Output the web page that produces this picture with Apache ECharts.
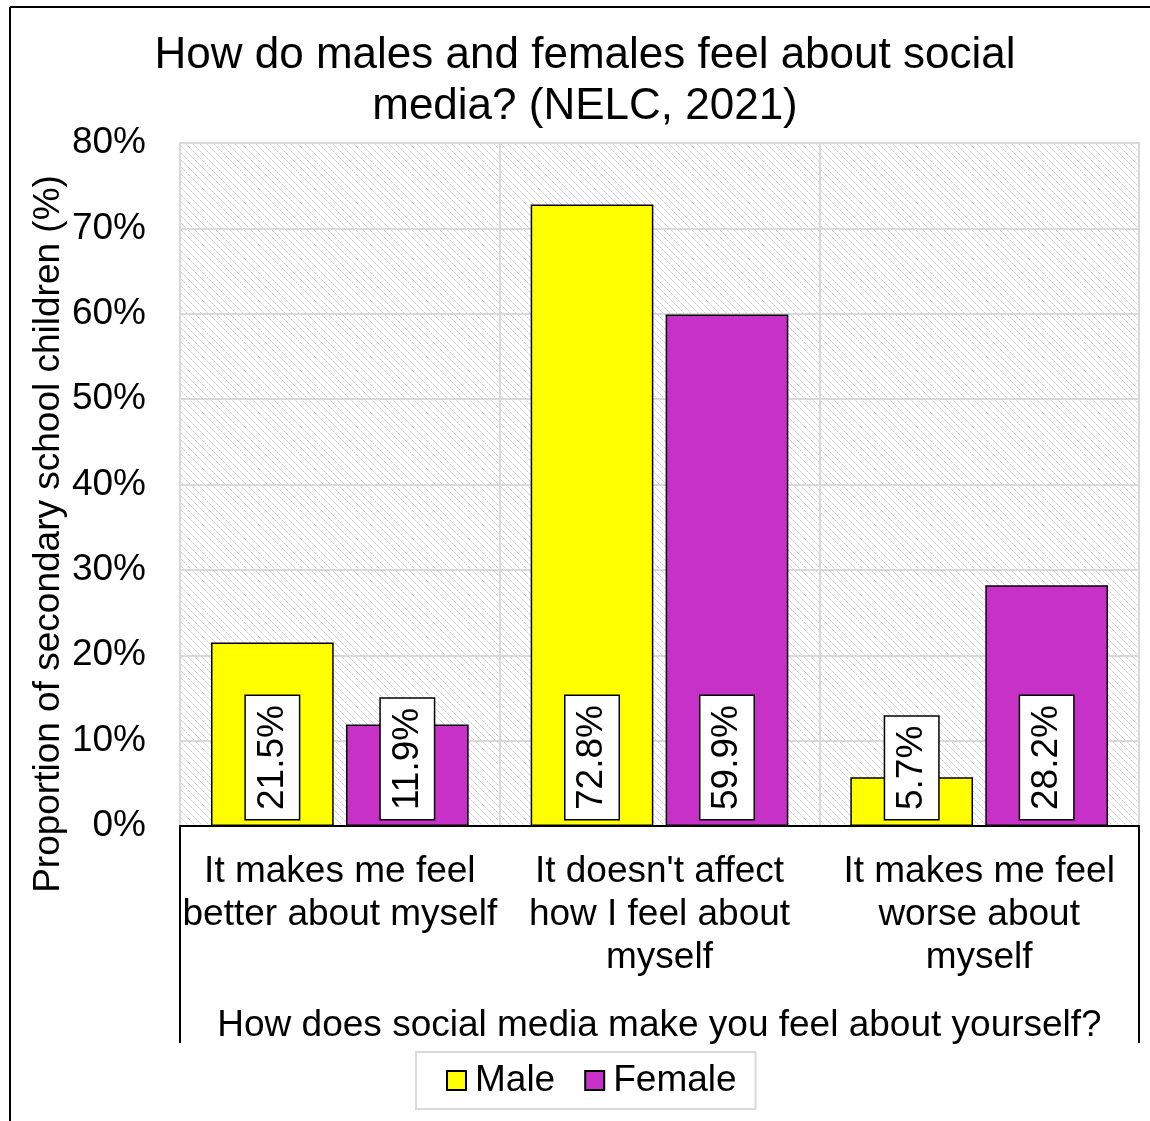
<!DOCTYPE html>
<html>
<head>
<meta charset="utf-8">
<script src="https://cdn.jsdelivr.net/npm/echarts@6/dist/echarts.min.js"></script>
<style>
  html, body { margin: 0; padding: 0; background: #fff; }
  #chart { width: 1150px; height: 1121px; }
</style>
</head>
<body>
<div id="chart"></div>
<script>
// Survey responses (% of secondary school children)
const categories = [
  'It makes me feel\nbetter about myself',
  "It doesn't affect\nhow I feel about\nmyself",
  'It makes me feel\nworse about\nmyself'
];
const maleValues = [21.5, 72.8, 5.7];
const femaleValues = [11.9, 59.9, 28.2];
const seriesNames = ['Male', 'Female'];
const yTicks = { min: 0, max: 80, interval: 10 };

const FONT = 'Liberation Sans, Arial, sans-serif';
const GRID = { left: 180, right: 11, top: 143, bottom: 295 };

// light grey diagonal hatch used behind the plot
function hatchPattern() {
  const c = document.createElement('canvas');
  const n = 7;
  c.width = n; c.height = n;
  const ctx = c.getContext('2d');
  ctx.fillStyle = '#ffffff';
  ctx.fillRect(0, 0, n, n);
  for (let i = 0; i < n; i++) {
    ctx.fillStyle = (i % 2 === 0) ? '#cfcfcf' : '#e4e4e4';
    ctx.fillRect(i, i, 1, 1);
  }
  return { image: c, repeat: 'repeat' };
}

const chart = echarts.init(document.getElementById('chart'), null, { renderer: 'canvas' });

const valueLabel = {
  show: true,
  position: 'insideBottom',
  distance: 7,
  rotate: 90,
  align: 'left',
  verticalAlign: 'middle',
  formatter: p => p.value.toFixed(1) + '%',
  fontFamily: FONT,
  fontSize: 37,
  lineHeight: 37,
  color: '#000',
  backgroundColor: '#fff',
  borderColor: '#000',
  borderWidth: 1.5,
  padding: [8, 9, 8, 9]
};

const plotW = 1150 - GRID.left - GRID.right;
const plotBottom = 1121 - GRID.bottom;

chart.setOption({
  animation: false,
  backgroundColor: '#fff',
  textStyle: { fontFamily: FONT },
  grid: {
    left: GRID.left, right: GRID.right, top: GRID.top, bottom: GRID.bottom,
    show: true,
    backgroundColor: hatchPattern(),
    borderColor: '#d9d9d9',
    borderWidth: 2
  },
  legend: {
    data: seriesNames,
    left: 416,
    top: 1052,
    orient: 'horizontal',
    padding: [10, 19, 10, 30],
    itemGap: 29,
    itemWidth: 19,
    itemHeight: 19,
    icon: 'rect',
    borderColor: '#d9d9d9',
    borderWidth: 2,
    backgroundColor: '#fff',
    textStyle: { fontFamily: FONT, fontSize: 37, color: '#000', padding: [0, 0, 0, 4] }
  },
  xAxis: {
    type: 'category',
    data: categories,
    name: 'How does social media make you feel about yourself?',
    nameLocation: 'middle',
    nameGap: 181,
    nameTextStyle: { fontFamily: FONT, fontSize: 37, color: '#000', lineHeight: 37, verticalAlign: 'top' },
    axisLine: { show: true, lineStyle: { color: '#000', width: 2 } },
    axisTick: { show: false },
    axisLabel: {
      interval: 0,
      margin: 24,
      fontFamily: FONT, fontSize: 37, lineHeight: 43, color: '#000'
    },
    splitLine: { show: true, lineStyle: { color: '#d9d9d9', width: 2 } }
  },
  yAxis: {
    type: 'value',
    min: yTicks.min,
    max: yTicks.max,
    interval: yTicks.interval,
    axisLine: { show: false },
    axisTick: { show: false },
    axisLabel: {
      formatter: '{value}%',
      margin: 34,
      padding: [4, 0, 0, 0],
      fontFamily: FONT, fontSize: 37, color: '#000'
    },
    splitLine: { show: true, lineStyle: { color: '#d9d9d9', width: 2 } }
  },
  series: [
    {
      name: seriesNames[0],
      type: 'bar',
      data: maleValues,
      barGap: '10%',
      barCategoryGap: '19.4%',
      itemStyle: { color: '#ffff00', borderColor: '#000', borderWidth: 1.5 },
      label: valueLabel
    },
    {
      name: seriesNames[1],
      type: 'bar',
      data: femaleValues,
      barGap: '10%',
      barCategoryGap: '19.4%',
      itemStyle: { color: '#c831c8', borderColor: '#000', borderWidth: 1.5 },
      label: valueLabel
    }
  ],
  graphic: [
    // chart frame (top and left edges)
    { type: 'line', shape: { x1: 10, y1: 7, x2: 1150, y2: 7 }, style: { stroke: '#000', lineWidth: 2 }, z: 100 },
    { type: 'line', shape: { x1: 10, y1: 7, x2: 10, y2: 1121 }, style: { stroke: '#000', lineWidth: 2 }, z: 100 },
    // brackets enclosing the category axis labels
    { type: 'line', shape: { x1: GRID.left, y1: plotBottom, x2: GRID.left, y2: 1043 }, style: { stroke: '#000', lineWidth: 2 }, z: 100 },
    { type: 'line', shape: { x1: GRID.left + plotW, y1: plotBottom, x2: GRID.left + plotW, y2: 1043 }, style: { stroke: '#000', lineWidth: 2 }, z: 100 },
    // title
    {
      type: 'text', z: 100,
      x: 585, y: 81,
      style: {
        text: 'How do males and females feel about social\nmedia? (NELC, 2021)',
        fontFamily: FONT, fontSize: 44, lineHeight: 51, fill: '#000',
        align: 'center', verticalAlign: 'middle'
      }
    },
    // y axis title
    {
      type: 'text', z: 100,
      x: 49, y: 534, rotation: Math.PI / 2,
      style: {
        text: 'Proportion of secondary school children (%)',
        fontFamily: FONT, fontSize: 37, fill: '#000', align: 'center', verticalAlign: 'middle'
      }
    }
  ]
});
</script>
</body>
</html>
